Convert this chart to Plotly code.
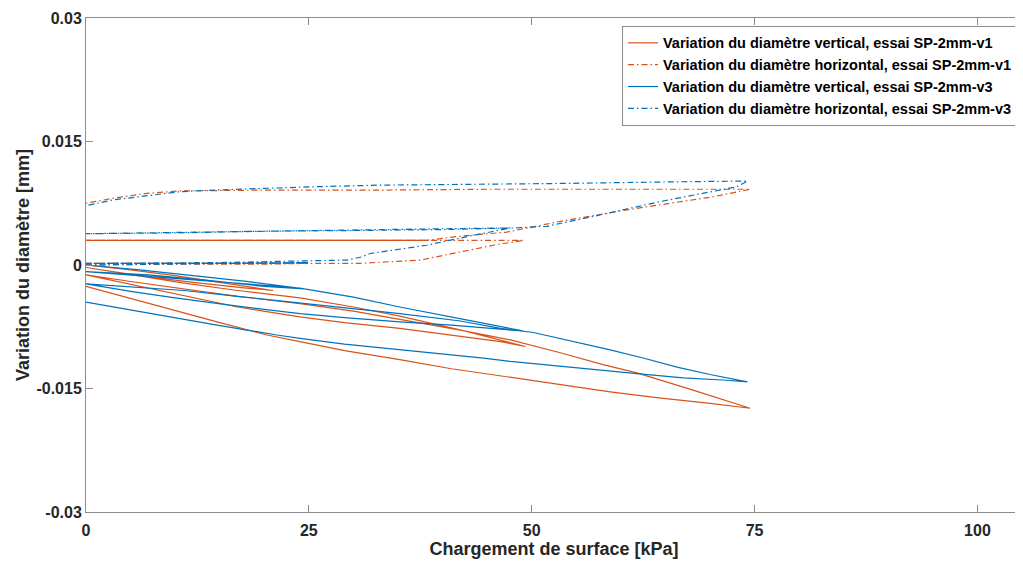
import plotly.graph_objects as go

# ---------------- data (load in kPa, diameter change in mm) ----------------
v1_vert_load = [0, 5, 10, 15, 21,
                18, 12, 6, 0,
                5, 11, 17, 24, 30, 35.2, 42.8, 49.3,
                46.5, 40, 35.2, 29, 24, 17, 10, 5, 0,
                5, 11, 17, 24, 30, 35.2, 42, 47.6, 53, 58, 61.8, 68.1, 74.5,
                70, 64, 58.8, 53, 47.6, 41, 35.2, 29, 24, 20.3, 14.7, 7.3, 3, 0]
v1_vert_dia = [0.0, -0.0006, -0.0013, -0.0021, -0.0031,
               -0.0028, -0.0021, -0.0013, -0.0003,
               -0.0012, -0.0022, -0.0031, -0.0040, -0.0051, -0.0062, -0.0081, -0.0099,
               -0.0093, -0.0084, -0.0077, -0.0070, -0.0063, -0.0051, -0.0035, -0.0024, -0.0012,
               -0.0020, -0.0029, -0.0038, -0.0047, -0.0056, -0.0066, -0.0079, -0.0091, -0.0106, -0.0121, -0.0131, -0.0152, -0.0174,
               -0.0168, -0.0161, -0.0154, -0.0145, -0.0136, -0.0126, -0.0115, -0.0104, -0.0093, -0.0085, -0.0069, -0.0047, -0.0035, -0.0026]

v1_horiz_load = [0, 10, 20, 25,
                 15, 0,
                 15, 30.7, 37.5, 42, 45.7, 49.1,
                 45, 35, 20, 10, 0,
                 10, 20, 30, 38.2, 42, 47.2, 49.5, 53.2, 60.7, 70.4, 74.5,
                 60, 45, 33, 20, 10.5, 6.8, 3, 0]
v1_horiz_dia = [0.0, 0.0001, 0.0001, 0.0002,
                0.0002, 0.0002,
                0.0002, 0.0002, 0.0006, 0.0016, 0.0024, 0.0030,
                0.0030, 0.0030, 0.0030, 0.0030, 0.0030,
                0.0030, 0.0030, 0.0030, 0.0030, 0.0035, 0.0040, 0.0045, 0.0053, 0.0067, 0.0083, 0.0092,
                0.0092, 0.0092, 0.0091, 0.0091, 0.0090, 0.0087, 0.0081, 0.0075]
# part of the v1 horizontal path where unloading and reloading overlap
# (the two dash-dot patterns merge into a solid-looking line)
v1_horiz_overlap_load = [0, 10, 20, 30, 38.2]
v1_horiz_overlap_dia = [0.0030, 0.0030, 0.0030, 0.0030, 0.0030]

v3_vert_load = [0, 6, 12, 18, 24.5,
                20, 14, 7, 0,
                6, 12, 18, 24, 30, 35.2, 42.8, 49,
                46.5, 41, 35.2, 29, 24, 17, 10, 5, 0,
                5, 11, 17, 22.2, 26.7, 35.2, 42, 46.5, 50.2, 54, 58.8, 62.5, 66.3, 70, 74.2,
                71.9, 67, 61.8, 55, 47.6, 44.6, 40, 35.2, 29, 24, 21.4, 14.7, 7.3, 3, 0]
v3_vert_dia = [0.0, -0.0006, -0.0013, -0.0020, -0.0029,
               -0.0026, -0.0019, -0.0012, -0.0008,
               -0.0013, -0.0018, -0.0023, -0.0028, -0.0039, -0.0051, -0.0067, -0.0080,
               -0.0078, -0.0073, -0.0069, -0.0064, -0.0059, -0.0050, -0.0040, -0.0032, -0.0023,
               -0.0027, -0.0031, -0.0038, -0.0044, -0.0049, -0.0059, -0.0068, -0.0077, -0.0082, -0.0091, -0.0103, -0.0113, -0.0124, -0.0133, -0.0142,
               -0.0140, -0.0137, -0.0132, -0.0125, -0.0117, -0.0113, -0.0108, -0.0103, -0.0096, -0.0089, -0.0085, -0.0073, -0.0059, -0.0051, -0.0045]

v3_horiz_load = [0, 10, 20, 25,
                 15, 0,
                 15, 29.3, 31, 31.9, 38.2, 43, 47.6,
                 40, 33, 20, 10, 0,
                 10, 20, 30.7, 40, 47.9, 51.7, 56.9, 64.4, 73, 74.2,
                 66, 53, 33, 25.5, 14.3, 10.5, 3, 0]
v3_horiz_dia = [0.0, 0.0001, 0.0002, 0.0003,
                0.0002, 0.0002,
                0.0003, 0.0006, 0.0010, 0.0014, 0.0024, 0.0035, 0.0045,
                0.0044, 0.0043, 0.0041, 0.0040, 0.0038,
                0.0039, 0.0041, 0.0042, 0.0043, 0.0045, 0.0047, 0.0059, 0.0077, 0.0095, 0.0102,
                0.0101, 0.0099, 0.0097, 0.0095, 0.0091, 0.0089, 0.0079, 0.0072]

series_names = [
    "Variation du diamètre vertical, essai SP-2mm-v1",
    "Variation du diamètre horizontal, essai SP-2mm-v1",
    "Variation du diamètre vertical, essai SP-2mm-v3",
    "Variation du diamètre horizontal, essai SP-2mm-v3",
]

x_ticks = [0, 25, 50, 75, 100]
x_tick_labels = ["0", "25", "50", "75", "100"]
y_ticks = [-0.03, -0.015, 0, 0.015, 0.03]
y_tick_labels = ["-0.03", "-0.015", "0", "0.015", "0.03"]

# ---------------- figure ----------------
ORANGE = "#D95319"
BLUE = "#0072BD"
FONT = "Liberation Sans"
TXT = "#262626"
DASHDOT = "6px,3px,1.5px,3px"

fig = go.Figure()
specs = [
    (v1_vert_load, v1_vert_dia, ORANGE, "solid"),
    (v1_horiz_load, v1_horiz_dia, ORANGE, DASHDOT),
    (v3_vert_load, v3_vert_dia, BLUE, "solid"),
    (v3_horiz_load, v3_horiz_dia, BLUE, DASHDOT),
]
for i, (name, (xs, ys, col, dash)) in enumerate(zip(series_names, specs)):
    fig.add_trace(go.Scatter(
        x=xs, y=ys, mode="lines", name="<b>" + name + "</b>",
        legendgroup="g%d" % i,
        line=dict(color=col, width=1.2, dash=dash),
    ))
    if i == 1:
        fig.add_trace(go.Scatter(
            x=v1_horiz_overlap_load, y=v1_horiz_overlap_dia, mode="lines",
            legendgroup="g1", showlegend=False, hoverinfo="skip",
            line=dict(color=ORANGE, width=1.2),
        ))

axis_common = dict(
    showline=True, linecolor="#8c8c8c", linewidth=1, mirror="ticks",
    ticks="inside", ticklen=7, tickcolor="#8c8c8c", tickwidth=1,
    showgrid=False, zeroline=False, automargin=False,
    tickfont=dict(family=FONT, size=16, color=TXT, weight="bold"),
)

# page body has an 8 px margin, so the figure is sized/offset to compensate
fig.update_layout(
    width=1015, height=559,
    margin=dict(l=78, r=1, t=10, b=55),
    paper_bgcolor="white", plot_bgcolor="white",
    font=dict(family=FONT, color=TXT),
    xaxis=dict(
        range=[0, 105], tickvals=x_ticks, ticktext=x_tick_labels,
        ticklabelstandoff=4,
        title=dict(text="<b>Chargement de surface [kPa]</b>",
                   font=dict(family=FONT, size=18, color=TXT), standoff=4),
        **axis_common,
    ),
    yaxis=dict(
        range=[-0.03, 0.03], tickvals=y_ticks, ticktext=y_tick_labels,
        title=dict(text="<b>Variation du diamètre [mm]</b>",
                   font=dict(family=FONT, size=18, color=TXT), standoff=2),
        **axis_common,
    ),
    legend=dict(
        x=0.9957, y=0.984, xanchor="right", yanchor="top",
        bgcolor="white", bordercolor="#8c8c8c", borderwidth=1,
        font=dict(family=FONT, size=14.5, color="#000000"),
        itemwidth=30, tracegroupgap=0,
    ),
)

fig.write_html("out.html")
